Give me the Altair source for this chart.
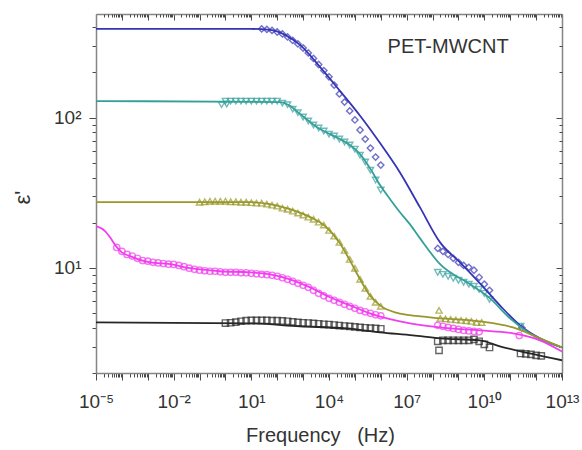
import altair as alt
import pandas as pd

# ---------------- data (log10 frequency, epsilon') ----------------
SERIES = ["blue", "teal", "olive", "magenta", "black"]
COLORS = ["#3535b5", "#35a09b", "#98982a", "#f23cf0", "#262626"]
SHAPES = ["diamond", "triangle-down", "triangle-up", "circle", "square"]

# fitted curves
FIT_LF_BLUE = [-5, 0.95, 1.72, 2.30, 2.88, 3.65, 4.42, 5.20, 5.97, 6.74, 7.51, 8.29, 9.06, 9.83, 10.60, 11.38, 12.15, 13.0]
FIT_EPS_BLUE = [390, 390, 384, 356, 305, 218, 151, 103, 67.8, 43.2, 25.4, 14.8, 10.9, 7.91, 5.64, 4.15, 3.40, 2.96]

FIT_LF_TEAL = [-5, 2.11, 2.49, 2.88, 3.27, 3.65, 4.04, 4.42, 4.81, 5.20, 5.58, 5.97, 6.36, 6.74, 7.13, 7.51, 8.29, 9.45, 10.22, 10.99, 11.76, 13.0]
FIT_EPS_TEAL = [129, 127, 120, 106, 93.6, 84.1, 77.8, 72.1, 65.8, 57.3, 46.2, 35.6, 28.7, 23.5, 19.5, 15.8, 10.6, 7.79, 6.28, 4.62, 3.67, 2.96]

FIT_LF_OLIVE = [-5, 0.95, 1.72, 2.49, 3.27, 3.85, 4.42, 4.81, 5.20, 5.58, 5.97, 6.55, 7.90, 9.83, 11.11, 12.15, 13.0]
FIT_EPS_OLIVE = [27.4, 27.4, 26.6, 24.6, 21.8, 19.0, 14.6, 11.2, 8.41, 6.57, 5.64, 5.07, 4.69, 4.41, 4.02, 3.40, 2.96]

FIT_LF_MAGENTA = [-5, -4.65, -4.46, -4.19, -4.0, -3.69, -2.91, -2.14, -1.37, -0.21, 0.95, 1.72, 2.49, 3.27, 4.04, 4.81, 5.58, 6.09, 7.13, 8.29, 9.83, 11.11, 12.15, 13.0]
FIT_EPS_MAGENTA = [19.0, 17.6, 16.0, 13.7, 12.7, 12.0, 10.9, 10.6, 9.96, 9.51, 9.36, 9.07, 8.41, 7.43, 6.38, 5.64, 4.99, 4.69, 4.28, 4.02, 3.84, 3.67, 3.30, 2.78]

FIT_LF_BLACK = [-5, 0.95, 2.88, 4.69, 5.97, 7.24, 8.29, 9.83, 10.60, 11.76, 13.0]
FIT_EPS_BLACK = [4.34, 4.28, 4.09, 3.96, 3.73, 3.56, 3.40, 3.30, 3.01, 2.70, 2.43]

# measured points
PTS_LF_BLUE = [1.4, 1.6, 1.8, 2.0, 2.2, 2.4, 2.6, 2.8, 3.0, 3.2, 3.4, 3.6, 3.8, 4.0, 4.2, 4.4, 4.6, 4.8,
               5.0, 5.2, 5.4, 5.6, 5.8, 6.0,
               8.2, 8.4, 8.6, 8.8, 9.0, 9.2, 9.4, 9.6, 9.8, 10.0, 10.2, 11.45]
PTS_EPS_BLUE = [390, 387, 381, 372, 361, 345, 327, 310, 291, 270, 248, 226, 206, 187, 165, 144, 127, 111,
                96.6, 82.8, 72.1, 62.8, 54.7, 48.4,
                13.5, 12.9, 12.3, 11.6, 10.9, 10.4, 10.1, 9.66, 8.67, 7.79, 7.10, 4.0]

PTS_LF_TEAL = [-0.15, 0.05, 0.0, 0.2, 0.4, 0.6, 0.8, 1.0, 1.2, 1.4, 1.6, 1.8, 2.0,
               2.2, 2.4, 2.6, 2.8, 3.0, 3.2, 3.4, 3.6, 3.8, 4.0, 4.2, 4.4, 4.6, 4.8, 5.0, 5.2, 5.4, 5.6, 5.8, 6.0,
               8.2, 8.4, 8.6, 8.8, 9.0, 9.2, 9.4, 9.6, 9.8, 10.0, 10.2, 11.4]
PTS_EPS_TEAL = [122, 123, 129, 129, 129, 129, 129, 129, 129, 129, 129, 129, 129,
                125, 122, 114, 108, 101, 95.1, 89.4, 85.4, 81.5, 77.8, 75.5, 72.1, 68.9, 65.8, 61.8, 56.4, 50.7, 44.8, 38.5, 33.0,
                9.36, 9.07, 8.81, 8.54, 8.28, 8.03, 7.79, 7.55, 7.21, 6.78, 6.18, 4.1]

PTS_LF_OLIVE = [-1.0, -0.8, -0.6, -0.4, -0.2, 0.0, 0.2, 0.4, 0.6, 0.8, 1.0,
                1.2, 1.4, 1.6, 1.8, 2.0, 2.2, 2.4, 2.6, 2.8, 3.0, 3.2, 3.4, 3.6, 3.8, 4.0, 4.2, 4.4, 4.6, 4.8,
                5.0, 5.2, 5.4, 5.6, 5.8, 6.0,
                8.25, 8.3, 8.5, 8.7, 8.9, 9.1, 9.3, 9.5, 9.7, 9.9]
PTS_EPS_OLIVE = [27.4, 27.6, 27.8, 27.8, 27.8, 27.8, 27.6, 27.6, 27.4, 27.4, 27.2,
                 27.0, 27.0, 26.6, 26.2, 25.8, 25.0, 24.6, 23.9, 23.2, 22.5, 21.8, 21.1, 20.2, 19.3, 17.8, 16.3, 14.8, 13.1, 11.4,
                 9.96, 8.41, 7.32, 6.47, 5.91, 5.56,
                 5.22, 4.62, 4.58, 4.55, 4.51, 4.48, 4.45, 4.41, 4.34, 4.34]

PTS_LF_MAGENTA = [-4.2, -4.0, -3.8, -3.6, -3.4, -3.2, -3.0, -2.8, -2.6, -2.4, -2.2, -2.0, -1.8, -1.6, -1.4, -1.2,
                  -1.0, -0.8, -0.6, -0.4, -0.2, 0.0, 0.2, 0.4, 0.6, 0.8, 1.0, 1.2, 1.4, 1.6, 1.8, 2.0,
                  2.2, 2.4, 2.6, 2.8, 3.0, 3.2, 3.4, 3.6, 3.8, 4.0, 4.2, 4.4, 4.6, 4.8, 5.0, 5.2, 5.4, 5.6, 5.8, 6.0,
                  8.2, 8.4, 8.6, 8.8, 9.0, 9.2, 9.4, 9.6, 9.8, 11.35]
PTS_EPS_MAGENTA = [13.7, 12.9, 12.3, 12.0, 11.6, 11.2, 11.1, 10.9, 10.8, 10.7, 10.6, 10.55, 10.4, 10.2, 9.96, 9.80,
                   9.66, 9.58, 9.51, 9.51, 9.43, 9.36, 9.36, 9.36, 9.29, 9.29, 9.22, 9.15, 9.07, 9.02, 8.94, 8.81,
                   8.61, 8.41, 8.15, 7.91, 7.67, 7.43, 7.10, 6.78, 6.53, 6.28, 6.09, 5.91, 5.73, 5.56, 5.39, 5.22, 5.11, 4.99, 4.88, 4.80,
                   4.15, 4.09, 4.02, 3.96, 3.90, 3.84, 3.81, 3.78, 3.76, 3.55]

PTS_LF_BLACK = [0.0, 0.2, 0.4, 0.6, 0.8, 1.0, 1.2, 1.4, 1.6, 1.8, 2.0, 2.2, 2.4, 2.6, 2.8, 3.0,
                3.2, 3.4, 3.6, 3.8, 4.0, 4.2, 4.4, 4.6, 4.8, 5.0, 5.2, 5.4, 5.6, 5.8, 6.0,
                8.2, 8.25, 8.4, 8.6, 8.8, 9.0, 9.2, 9.4, 9.6, 9.8, 10.0, 10.2,
                11.4, 11.6, 11.8, 12.0, 12.2]
PTS_EPS_BLACK = [4.30, 4.32, 4.36, 4.42, 4.46, 4.48, 4.48, 4.48, 4.48, 4.46, 4.46, 4.44, 4.42, 4.38, 4.34, 4.32,
                 4.30, 4.28, 4.25, 4.22, 4.20, 4.17, 4.14, 4.11, 4.08, 4.05, 4.02, 4.00, 3.98, 3.96, 3.94,
                 3.25, 2.83, 3.30, 3.30, 3.30, 3.30, 3.30, 3.30, 3.35, 3.25, 3.10, 2.96,
                 2.70, 2.68, 2.66, 2.62, 2.60]

# axis ticks / labels
X_DECADES = [-5, -4, -3, -2, -1, 0, 1, 2, 3, 4, 5, 6, 7, 8, 9, 10, 11, 12, 13]
X_LABELED = [-5, -2, 1, 4, 7, 10, 13]
Y_DECADES = [1, 2]
Y_LABELED = [1, 2]
MINOR_MULT = [2, 3, 4, 5, 6, 7, 8, 9]
Y_MINOR_VALUES = [2, 3, 4, 5, 6, 7, 8, 9, 20, 30, 40, 50, 60, 70, 80, 90, 200, 300, 400]

ANNOT_TEXT = ["PET-MWCNT"]
ANNOT_LF = [8.6]
ANNOT_EPS = [296]

X_DOMAIN = [1e-5, 1e13]
Y_DOMAIN = [2, 490]

# ---------------- build tables ----------------
fits = {"blue": (FIT_LF_BLUE, FIT_EPS_BLUE), "teal": (FIT_LF_TEAL, FIT_EPS_TEAL),
        "olive": (FIT_LF_OLIVE, FIT_EPS_OLIVE), "magenta": (FIT_LF_MAGENTA, FIT_EPS_MAGENTA),
        "black": (FIT_LF_BLACK, FIT_EPS_BLACK)}
pts = {"blue": (PTS_LF_BLUE, PTS_EPS_BLUE), "teal": (PTS_LF_TEAL, PTS_EPS_TEAL),
       "olive": (PTS_LF_OLIVE, PTS_EPS_OLIVE), "magenta": (PTS_LF_MAGENTA, PTS_EPS_MAGENTA),
       "black": (PTS_LF_BLACK, PTS_EPS_BLACK)}

fit_rows, pt_rows = [], []
for s in SERIES:
    lf, ev = fits[s]
    for i, (a, b) in enumerate(zip(lf, ev)):
        fit_rows.append({"series": s, "order": i, "f": 10.0 ** a, "eps": b})
    lf, ev = pts[s]
    for a, b in zip(lf, ev):
        pt_rows.append({"series": s, "f": 10.0 ** a, "eps": b})
fit_df = pd.DataFrame(fit_rows)
pt_df = pd.DataFrame(pt_rows)
annot_df = pd.DataFrame({"label": ANNOT_TEXT, "f": [10.0 ** v for v in ANNOT_LF], "eps": ANNOT_EPS})

X_MAJOR = [10.0 ** k for k in X_DECADES]
X_MINOR = [m * 10.0 ** k for k in X_DECADES[:-1] for m in MINOR_MULT]
Y_MAJOR = [10.0 ** k for k in Y_DECADES]

SUP = {"-": "\u207b", "0": "\u2070", "1": "\u00b9", "2": "\u00b2", "3": "\u00b3", "4": "\u2074",
       "5": "\u2075", "6": "\u2076", "7": "\u2077", "8": "\u2078", "9": "\u2079"}


def sup(n):
    return "".join(SUP[c] for c in str(n))


def label_expr(exps):
    e = "round(log(datum.value)/LN10)"
    parts = [f"({e} == {k}) ? '10{sup(k)}'" for k in exps]
    return " : ".join(parts) + " : ''"


FONT = "Liberation Sans"
TXT = "#333333"
DOM = "#858585"
TICK = "#4a4a4a"
W, H = 466, 359

xs = alt.Scale(type="log", domain=X_DOMAIN, nice=False)
ys = alt.Scale(type="log", domain=Y_DOMAIN, nice=False)
color = alt.Color("series:N", scale=alt.Scale(domain=SERIES, range=COLORS), legend=None)

common_axis = dict(grid=False, domainColor=DOM, domainWidth=1.5, tickColor=TICK, tickWidth=1)

# main axes (labels, major ticks)
x_main = alt.Axis(orient="bottom", values=X_MAJOR, tickSize=7, labelExpr=label_expr(X_LABELED),
                  labelFont=FONT, labelFontSize=19, labelColor=TXT, labelPadding=12,
                  labelOverlap=False, labelFlush=False,
                  title="Frequency\u00a0\u00a0\u00a0(Hz)", titleFont=FONT, titleFontSize=20,
                  titleFontWeight="normal", titleColor=TXT, titlePadding=14, titleX=224,
                  **common_axis)
y_main = alt.Axis(orient="left", values=Y_MAJOR, tickSize=7, labelExpr=label_expr(Y_LABELED),
                  labelFont=FONT, labelFontSize=19, labelColor=TXT, labelPadding=8,
                  labelOverlap=False, labelFlush=False,
                  title="\u03b5'", titleFont=FONT, titleFontSize=22, titleFontWeight="normal",
                  titleColor=TXT, titleAngle=270, titleX=-74, titleY=183, titleAlign="center",
                  titleBaseline="middle", **common_axis)
# minor ticks bottom/left
x_minor = alt.Axis(orient="bottom", values=X_MINOR, tickSize=4, labels=False, domain=False,
                   title=None, grid=False, tickColor=TICK, tickWidth=1)
y_minor = alt.Axis(orient="left", values=Y_MINOR_VALUES, tickSize=4, labels=False, domain=False,
                   title=None, grid=False, tickColor=TICK, tickWidth=1)
# mirrored axes (top / right, ticks inward)
x_top = alt.Axis(orient="bottom", offset=-H, values=X_MAJOR, tickSize=6, labels=False, title=None,
                 **common_axis)
y_right = alt.Axis(orient="left", offset=-W, values=Y_MAJOR, tickSize=6, labels=False, title=None,
                   **common_axis)
x_top_minor = alt.Axis(orient="bottom", offset=-H, values=X_MINOR, tickSize=3, labels=False,
                       domain=False, title=None, grid=False, tickColor=TICK, tickWidth=1)
y_right_minor = alt.Axis(orient="left", offset=-W, values=Y_MINOR_VALUES, tickSize=3, labels=False,
                         domain=False, title=None, grid=False, tickColor=TICK, tickWidth=1)

lines = alt.Chart(fit_df).mark_line(strokeWidth=1.8, interpolate="monotone", clip=True).encode(
    x=alt.X("f:Q", scale=xs, axis=x_main),
    y=alt.Y("eps:Q", scale=ys, axis=y_main),
    color=color,
    detail="series:N",
    order="order:Q",
)

points = alt.Chart(pt_df).mark_point(filled=False, size=40, strokeWidth=1.4, clip=True).encode(
    x=alt.X("f:Q", scale=xs, axis=x_minor),
    y=alt.Y("eps:Q", scale=ys, axis=y_minor),
    color=color,
    shape=alt.Shape("series:N", scale=alt.Scale(domain=SERIES, range=SHAPES), legend=None),
)

annot = alt.Chart(annot_df).mark_text(font=FONT, fontSize=20, color=TXT, align="center",
                                      baseline="middle").encode(
    x=alt.X("f:Q", scale=xs, axis=x_top),
    y=alt.Y("eps:Q", scale=ys, axis=y_right),
    text="label:N",
)

frame_minor = alt.Chart(annot_df).mark_point(opacity=0).encode(
    x=alt.X("f:Q", scale=xs, axis=x_top_minor),
    y=alt.Y("eps:Q", scale=ys, axis=y_right_minor),
)

chart = alt.layer(points, lines, annot, frame_minor).resolve_axis(
    x="independent", y="independent"
).properties(
    width=W, height=H,
    autosize=alt.AutoSizeParams(type="none"),
    padding={"left": 96, "top": 14, "right": 20, "bottom": 77},
    background="white",
).configure_view(stroke=None)

chart.save("out.html", embed_options={"renderer": "svg", "actions": False})
